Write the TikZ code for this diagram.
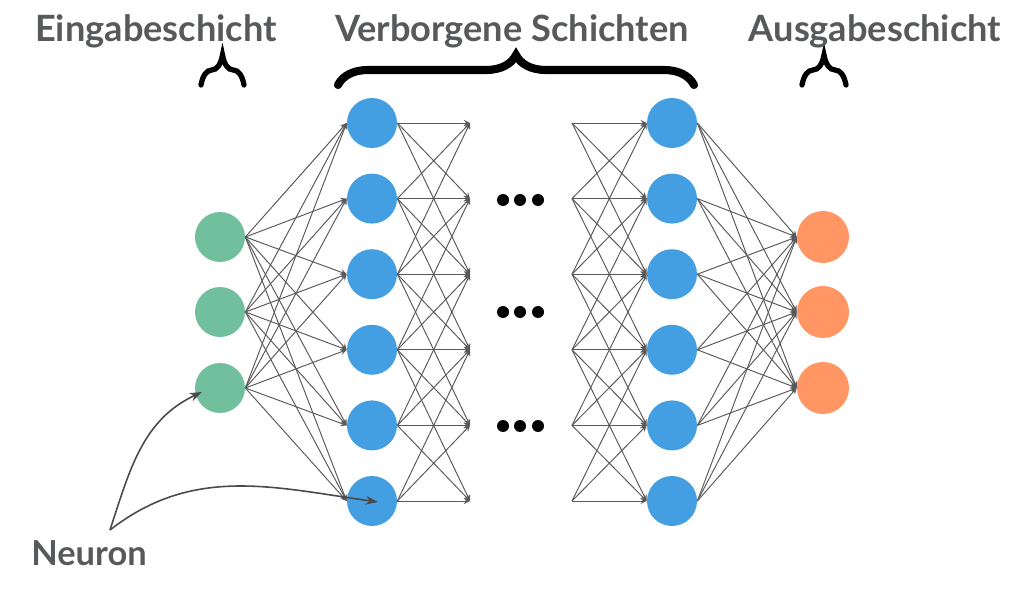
\documentclass[tikz,border=0pt]{standalone}
\usepackage{fontspec}
\setmainfont{Lato}
\usepackage{tikz}
\usetikzlibrary{arrows,arrows.meta,decorations.pathreplacing}
\definecolor{ingreen}{HTML}{72BF9E}
\definecolor{hidblue}{HTML}{439FE2}
\definecolor{outorange}{HTML}{FF9663}
\definecolor{txtgray}{HTML}{58595B}
\definecolor{arrgray}{HTML}{4A4A4C}

\begin{document}
\begin{tikzpicture}[x=0.02cm,y=0.02cm,
  neuron/.style={circle,inner sep=0pt,minimum size=1cm},
  conn/.style={black!65,line width=0.55pt},
  tipconn/.style={conn,-stealth},
  layerbrace/.style={decorate,decoration={brace,amplitude=0.6cm},line cap=round},
  title/.style={text=txtgray,font=\bfseries\fontsize{20.6}{24}\selectfont,anchor=base},
  pointer/.style={arrgray,line width=0.9pt,-{Stealth[length=7pt,width=5pt]}}]
\useasboundingbox (0,0) rectangle (1024,592);
% Schichten
\foreach \i/\y in {1/355,2/280,3/204}{
  \node[neuron,fill=ingreen] (i\i) at (220,\y) {};
  \node[neuron,fill=outorange,minimum size=1.04cm] (o\i) at (823,\y) {};
}
\foreach \i in {1,...,6}{
  \pgfmathsetmacro\y{469-75.6*(\i-1)}
  \node[neuron,fill=hidblue] (a\i) at (372,\y) {};
  \node[neuron,fill=hidblue] (b\i) at (672,\y) {};
  \coordinate (p\i) at (470,\y);
  \coordinate (q\i) at (572,\y);
}
% Verbindungen
\foreach \i in {1,2,3}
  \foreach \j in {1,...,6}{
    \draw[tipconn] (i\i.east) -- (a\j.west);
    \draw[tipconn] (b\j.east) -- (o\i.west);
  }
\foreach \i in {1,...,6}
  \foreach \j in {1,...,6}{
    \pgfmathtruncatemacro\d{abs(\i-\j)}
    \ifnum\d<3
      \draw[tipconn] (a\i.east) -- (p\j);
      \draw[tipconn] (q\i) -- (b\j.west);
    \fi
  }
% Punkte
\foreach \y in {392,280,166}
  \foreach \x in {503,520,538}
    \fill (\x,\y) circle (6);
% Klammern
\draw[layerbrace,line width=3pt] (201,507) -- (244,507);
\draw[layerbrace,line width=4.6pt] (338,507) -- (694,507);
\draw[layerbrace,line width=3pt] (802,507) -- (846,507);
\node[title] (tin) at (156,550) {Eingabeschicht};
\node[title] (thid) at (512,550) {Verborgene Schichten};
\node[title] (tout) at (875,550) {Ausgabeschicht};
% Neuron
\node[title,font=\bfseries\fontsize{19.6}{22}\selectfont] (neuron) at (89,27) {Neuron};
\coordinate (nstart) at (110,62);
\draw[pointer] (nstart) to[out=72,in=205] (202,200);
\draw[pointer] (nstart) to[out=38,in=172] (378,90);
\end{tikzpicture}
\end{document}
